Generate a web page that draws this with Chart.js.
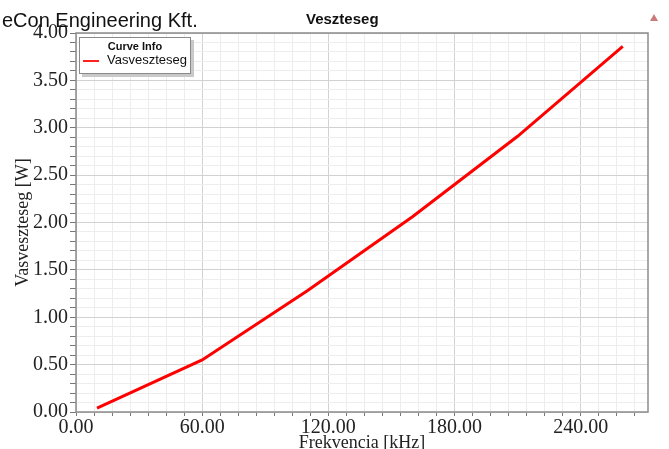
<!DOCTYPE html>
<html>
<head>
<meta charset="utf-8">
<script src="https://cdn.jsdelivr.net/npm/chart.js@4/dist/chart.umd.min.js"></script>
<style>
  body { margin: 0; background: #fff; }
  #wrap { position: relative; width: 669px; height: 449px; overflow: hidden; }
  #company { position: absolute; left: 2px; top: 9px; font: 20px "Liberation Sans", Arial, sans-serif; color: #111; }
  #title { position: absolute; left: 306px; top: 10px; font: bold 15px "Liberation Sans", Arial, sans-serif; color: #111; }
  #mark { position: absolute; left: 650px; top: 14px; width: 0; height: 0;
    border-left: 4px solid transparent; border-right: 4px solid transparent; border-bottom: 7px solid #c97b7b; }
  #legend { position: absolute; left: 79px; top: 37px; width: 110px; height: 35px; background: #fff;
    border: 1px solid #8a8a8a; box-shadow: 3px 3px 0 #c9c9c9; font-family: "Liberation Sans", Arial, sans-serif; }
  #legend .head { text-align: center; font-weight: bold; font-size: 11px; margin-top: 2px; line-height: 12px; color: #111; }
  #legend .row { position: relative; height: 16px; }
  #legend .swatch { position: absolute; left: 3px; top: 8px; width: 16px; height: 0; border-top: 2px solid #ff2020; }
  #legend .label { position: absolute; left: 27px; top: 0; font-size: 13px; line-height: 16px; color: #111; }
</style>
</head>
<body>
<div id="wrap">
  <canvas id="chart" width="669" height="449"></canvas>
  <div id="company">eCon Engineering Kft.</div>
  <div id="title">Veszteseg</div>
  <div id="mark"></div>
  <div id="legend">
    <div class="head">Curve Info</div>
    <div class="row"><span class="swatch"></span><span class="label">Vasveszteseg</span></div>
  </div>
</div>
<script>
// frequency sweep [kHz] and iron loss [W]
const frequency = [10, 60, 110, 160, 210, 260];
const ironLoss = [0.04, 0.55, 1.28, 2.06, 2.91, 3.86];

const xMin = 0, xMax = 272, xMajor = 60, xMinorPerMajor = 7;
const yMin = 0, yMax = 4, yMinor = 0.1, yMinorPerMajor = 5;

const serif = "'Liberation Serif', 'Times New Roman', serif";

// frame around the plot area
const frame = {
  id: "frame",
  beforeDatasetsDraw(chart) {
    const a = chart.chartArea;
    const ctx = chart.ctx;
    ctx.save();
    ctx.strokeStyle = "#8c8c8c";
    ctx.lineWidth = 1.5;
    ctx.strokeRect(a.left, a.top, a.right - a.left, a.bottom - a.top);
    ctx.restore();
  },
};

new Chart(document.getElementById("chart"), {
  type: "line",
  data: {
    datasets: [
      {
        label: "Vasveszteseg",
        data: frequency.map((f, i) => ({ x: f, y: ironLoss[i] })),
        borderColor: "#ff0000",
        borderWidth: 3,
        pointRadius: 0,
        tension: 0,
      },
    ],
  },
  options: {
    responsive: false,
    animation: false,
    layout: { padding: { top: 33, right: 21, left: 0, bottom: 0 } },
    plugins: {
      legend: { display: false },
      tooltip: { enabled: false },
    },
    scales: {
      x: {
        type: "linear",
        min: xMin,
        max: xMax,
        afterFit: (s) => { s.height = 37; },
        ticks: {
          stepSize: xMajor / xMinorPerMajor,
          includeBounds: false,
          autoSkip: false,
          maxRotation: 0,
          padding: 0,
          color: "#222",
          font: { family: serif, size: 20 },
          callback: (v, i) => (i % xMinorPerMajor === 0 ? (i / xMinorPerMajor * xMajor).toFixed(2) : ""),
        },
        grid: {
          color: (c) => (c.index % xMinorPerMajor === 0 ? "#d2d2d2" : "#ededed"),
          tickColor: "#777",
          tickLength: 4,
        },
        border: { display: false },
        title: {
          display: true,
          text: "Frekvencia [kHz]",
          color: "#222",
          font: { family: serif, size: 18 },
          padding: { top: 0, bottom: -5 },
        },
      },
      y: {
        min: yMin,
        max: yMax,
        afterFit: (s) => { s.width = 76; },
        ticks: {
          stepSize: yMinor,
          autoSkip: false,
          padding: 2,
          color: "#222",
          font: { family: serif, size: 20 },
          callback: (v, i) => (i % yMinorPerMajor === 0 ? (i * yMinor).toFixed(2) : ""),
        },
        grid: {
          color: (c) => (c.index % yMinorPerMajor === 0 ? "#d2d2d2" : "#ededed"),
          tickColor: "#777",
          tickLength: 6,
        },
        border: { display: false },
        title: {
          display: true,
          text: "Vasveszteseg [W]",
          color: "#222",
          font: { family: serif, size: 18 },
          padding: { top: 12, bottom: 0 },
        },
      },
    },
  },
  plugins: [frame],
});
</script>
</body>
</html>
